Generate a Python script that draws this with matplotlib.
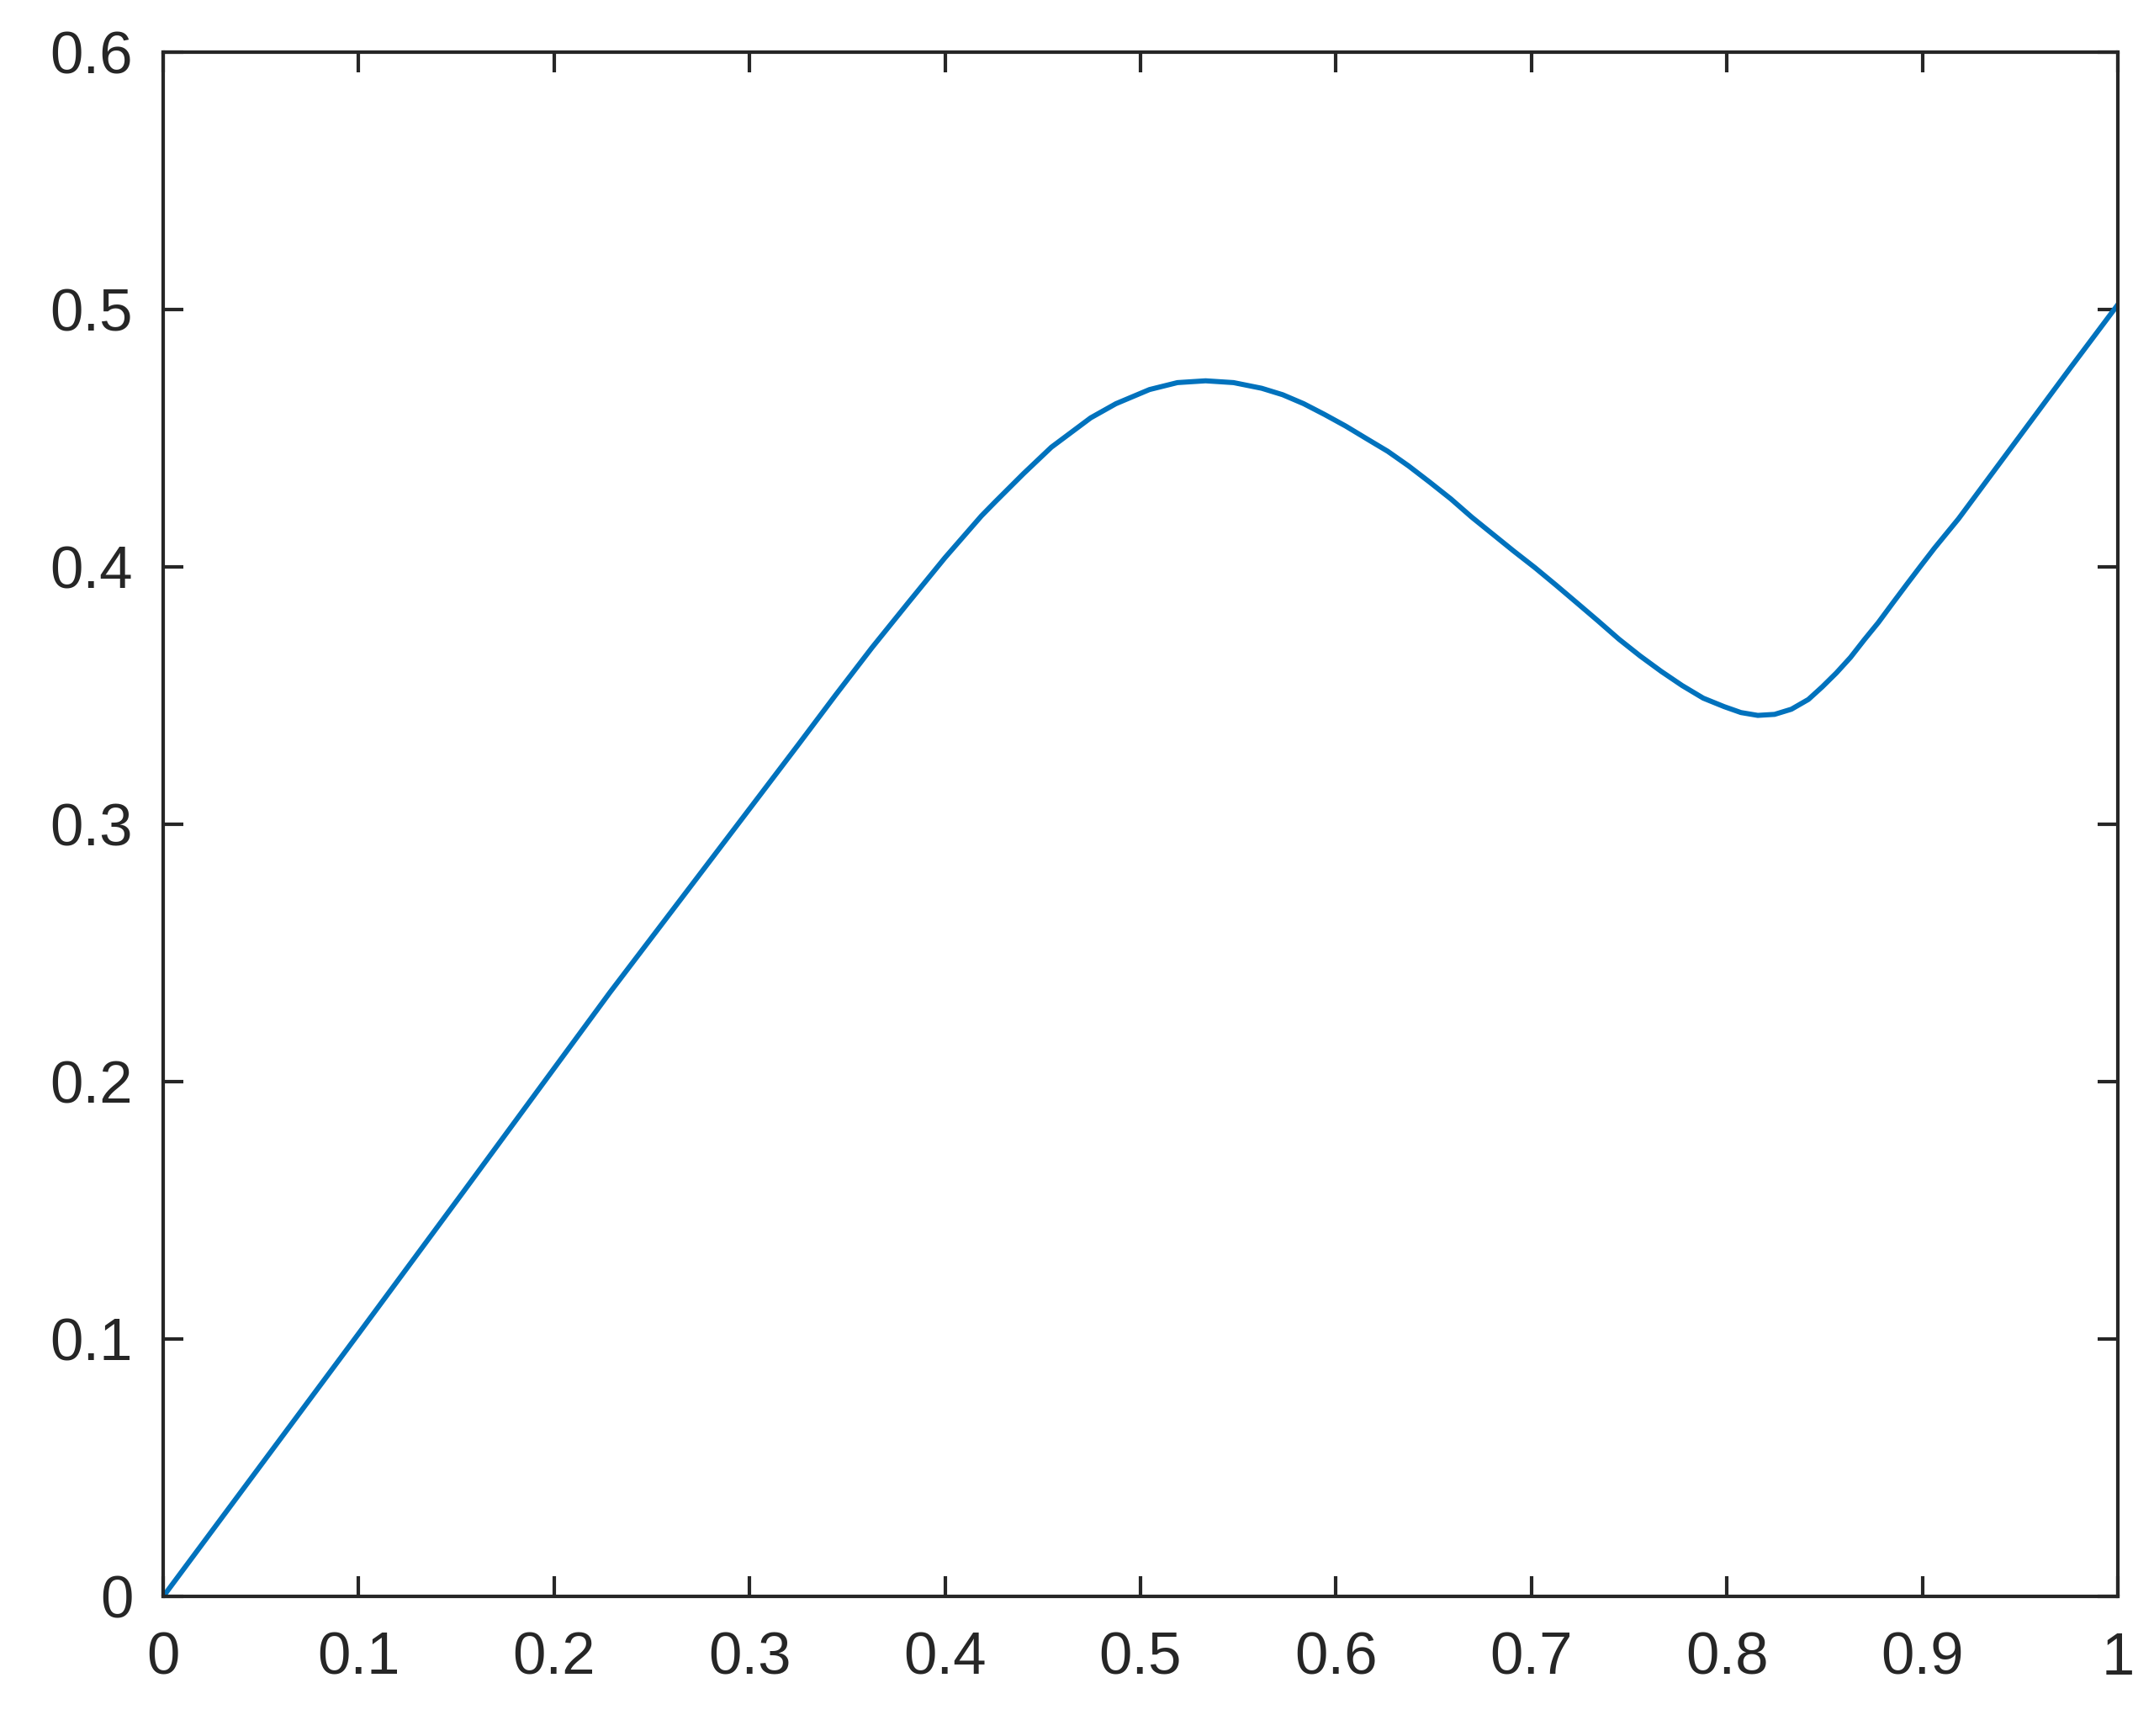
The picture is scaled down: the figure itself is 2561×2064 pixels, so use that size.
import matplotlib
matplotlib.use("Agg")
import matplotlib.pyplot as plt

# Curve values
x_vals = [0.0000, 0.1000, 0.1532, 0.2285, 0.3038, 0.3253, 0.3439, 0.3626, 0.3812,
          0.3999, 0.4186, 0.4257, 0.4401, 0.4544, 0.4745, 0.4874, 0.5046, 0.5189,
          0.5333, 0.5476, 0.5620, 0.5727, 0.5835, 0.5942, 0.6050, 0.6157, 0.6265,
          0.6372, 0.6480, 0.6588, 0.6695, 0.6910, 0.7018, 0.7126, 0.7233, 0.7341,
          0.7448, 0.7556, 0.7664, 0.7771, 0.7879, 0.7986, 0.8072, 0.8158, 0.8244,
          0.8330, 0.8417, 0.8488, 0.8560, 0.8632, 0.8703, 0.8775, 0.8847, 0.8919,
          0.8990, 0.9062, 0.9185, 0.9472, 0.9759, 1.0000]
y_vals = [0.0000, 0.1022, 0.1569, 0.2347, 0.3099, 0.3314, 0.3502, 0.3687, 0.3862,
          0.4036, 0.4199, 0.4254, 0.4363, 0.4466, 0.4580, 0.4635, 0.4690, 0.4717,
          0.4724, 0.4717, 0.4695, 0.4670, 0.4635, 0.4593, 0.4548, 0.4499, 0.4450,
          0.4393, 0.4330, 0.4265, 0.4194, 0.4062, 0.3998, 0.3930, 0.3861, 0.3791,
          0.3720, 0.3655, 0.3595, 0.3540, 0.3491, 0.3458, 0.3435, 0.3424, 0.3428,
          0.3448, 0.3486, 0.3535, 0.3589, 0.3649, 0.3718, 0.3785, 0.3859, 0.3932,
          0.4003, 0.4074, 0.4188, 0.4482, 0.4776, 0.5020]

x_ticks = [0, 0.1, 0.2, 0.3, 0.4, 0.5, 0.6, 0.7, 0.8, 0.9, 1.0]
x_tick_labels = ['0', '0.1', '0.2', '0.3', '0.4', '0.5', '0.6', '0.7', '0.8', '0.9', '1']
y_ticks = [0, 0.1, 0.2, 0.3, 0.4, 0.5, 0.6]
y_tick_labels = ['0', '0.1', '0.2', '0.3', '0.4', '0.5', '0.6']

plt.rcParams['font.family'] = ['Liberation Sans', 'DejaVu Sans']

AX_COLOR = '#262626'
LINE_COLOR = '#0072BD'

fig = plt.figure(figsize=(2562 / 300, 2064 / 300), dpi=300)
ax = fig.add_axes([194 / 2562, 1 - 1898.3 / 2064, 2324 / 2562, 1836 / 2064])

ax.plot(x_vals, y_vals, color=LINE_COLOR, linewidth=1.45,
        solid_joinstyle='round', antialiased=True)

ax.set_xlim(0, 1)
ax.set_ylim(0, 0.6)
ax.set_xticks(x_ticks)
ax.set_xticklabels(x_tick_labels)
ax.set_yticks(y_ticks)
ax.set_yticklabels(y_tick_labels)

for s in ax.spines.values():
    s.set_color(AX_COLOR)
    s.set_linewidth(1.0)

ax.tick_params(axis='both', which='major', direction='in', length=5.8, width=1.0,
               color=AX_COLOR, labelcolor=AX_COLOR, labelsize=17,
               top=True, right=True)
ax.tick_params(axis='x', pad=10)
ax.tick_params(axis='y', pad=8.6)

fig.savefig('out.png', dpi=300, facecolor='white')
